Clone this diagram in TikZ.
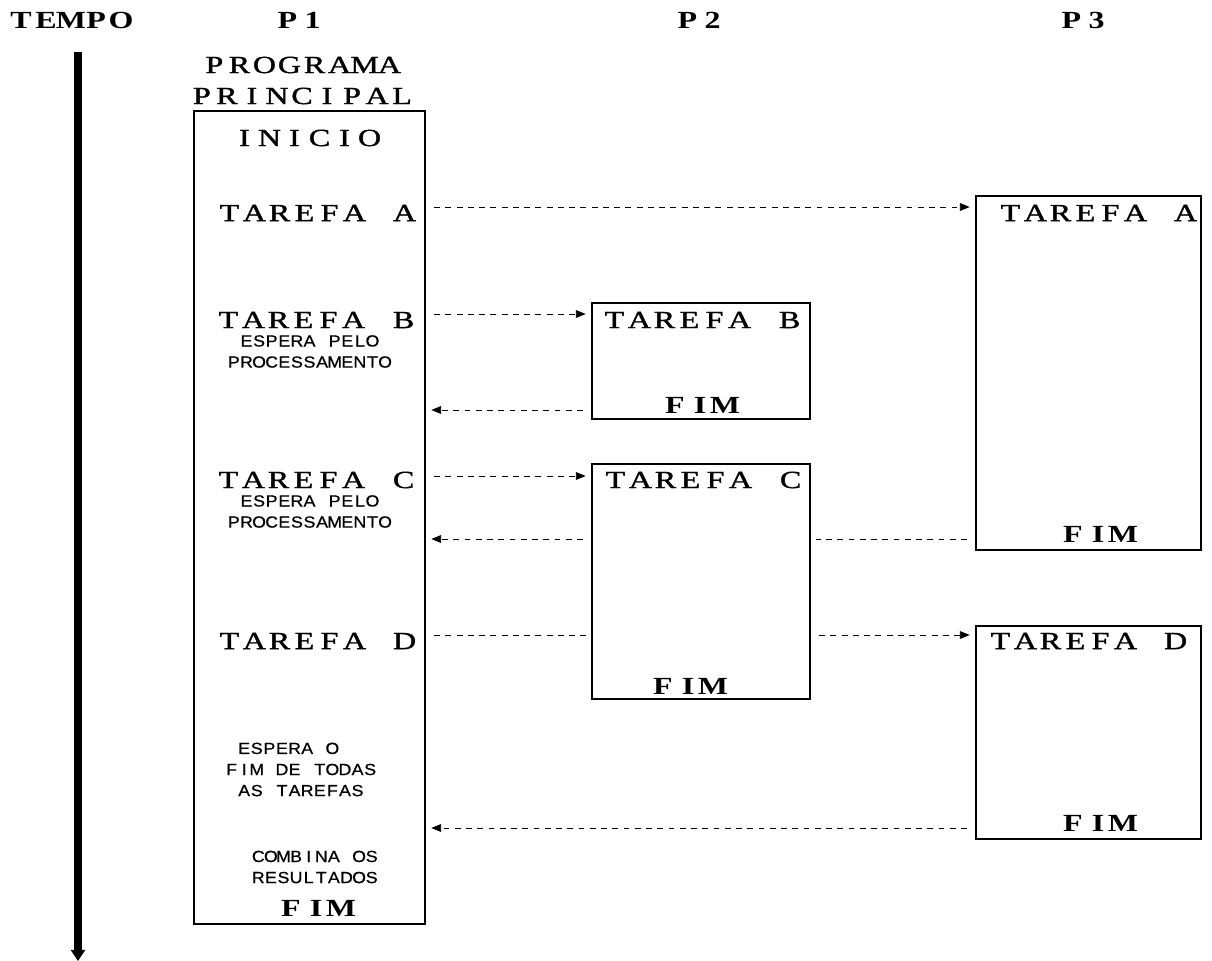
\documentclass[tikz,border=0pt]{standalone}
\usepackage{fontspec}
\usepackage{graphicx}
\setmainfont{Liberation Serif}
\newfontfamily\bigf[FakeBold=1.2]{Liberation Serif}
\newfontfamily\bigbff{Liberation Serif Bold}
\newfontfamily\smallf[FakeBold=0.6]{Liberation Sans}
\usetikzlibrary{arrows.meta}

\def\cellx{1.3}
\newcommand\cel[2][17.8pt]{\def\cellpitch{#1}\celloop#2\relax}
\def\celloop#1{\ifx#1\relax\else\makebox[\cellpitch]{\scalebox{\cellx}[1]{#1}}\expandafter\celloop\fi}

\begin{document}
\begin{tikzpicture}[
  x=0.025cm, y=-0.025cm,
  box/.style={draw, line width=0.9pt, inner sep=0pt},
  big/.style={inner sep=0pt, font=\bigf\fontsize{17.5}{20}\selectfont},
  bigbf/.style={inner sep=0pt, font=\bigbff\fontsize{17.5}{20}\selectfont},
  note/.style={inner sep=0pt, align=center, font={\smallf\fontsize{11.5}{15}\selectfont\def\cellx{1.1}}},
  flow/.style={dash pattern=on 4.2pt off 3.8pt, line width=0.6pt, shorten <=6pt, shorten >=4pt},
  arr/.style={-{Triangle[length=7pt,width=5.5pt]}}
]
\useasboundingbox (0,0) rectangle (1212,961);

\node[bigbf] (tempo) at (71,20) {\cel{TEMPO}};
\node[bigbf] (hp1) at (300,20) {\cel{P1}};
\node[bigbf] (hp2) at (700,20) {\cel{P2}};
\node[bigbf] (hp3) at (1084,20) {\cel{P3}};

\coordinate (t0) at (78,52);
\coordinate (t1) at (78,961);
\draw[line width=5.5pt, -{Triangle[length=8pt,width=10pt]}] (t0) -- (t1);

\node[big] (prog) at (302,65) {\cel{PROGRAMA}};
\node[big] (princ) at (302,96) {\cel{PRINCIPAL}};

\node[box, minimum width=5.775cm, minimum height=20.325cm] (p1) at (309.5,517.5) {};
\node[box, minimum width=5.45cm, minimum height=2.9cm] (p2b) at (701,361) {};
\node[box, minimum width=5.45cm, minimum height=5.875cm] (p2c) at (701,581.5) {};
\node[box, minimum width=5.625cm, minimum height=8.85cm] (p3a) at (1088.5,373) {};
\node[box, minimum width=5.625cm, minimum height=5.325cm] (p3d) at (1088.5,732.5) {};

\node[big] (inicio) at (307,138) {\cel{INICIO}};
\node[big] (ta1) at (317,213) {\cel{TAREFA~A}};
\node[big] (tb1) at (316,320) {\cel{TAREFA~B}};
\node[note] (wb) at (309.5,351.5) {\cel[8.96pt]{ESPERA~PELO}\\\cel[8.96pt]{PROCESSAMENTO}};
\node[big] (tc1) at (316,480) {\cel{TAREFA~C}};
\node[note] (wc) at (309.5,511.5) {\cel[8.96pt]{ESPERA~PELO}\\\cel[8.96pt]{PROCESSAMENTO}};
\node[big] (td1) at (317,641) {\cel{TAREFA~D}};
\node[note, align=left, anchor=west] (wall) at (225,769.5)
  {\cel[8.96pt]{~ESPERA~O}\\\cel[8.96pt]{FIM~DE~TODAS}\\\cel[8.96pt]{~AS~TAREFAS}};
\node[note] (comb) at (315,867) {\cel[8.96pt]{COMBINA~OS}\\\cel[8.96pt]{RESULTADOS}};
\node[bigbf] (fim1) at (316,908) {\cel{FIM}};

\node[big] (tb2) at (702,320) {\cel{TAREFA~B}};
\node[bigbf] (fimb) at (700,405) {\cel{FIM}};
\node[big] (tc2) at (703,480) {\cel{TAREFA~C}};
\node[bigbf] (fimc) at (688,686) {\cel{FIM}};
\node[big] (ta3) at (1098,213) {\cel{TAREFA~A}};
\node[bigbf] (fima) at (1098,534) {\cel{FIM}};
\node[big] (td3) at (1088,641) {\cel{TAREFA~D}};
\node[bigbf] (fimd) at (1098,823) {\cel{FIM}};

\coordinate (ya) at (0,207);
\coordinate (yb) at (0,314);
\coordinate (ybf) at (0,410);
\coordinate (yc) at (0,476);
\coordinate (ycf) at (0,539);
\coordinate (yd) at (0,635);
\coordinate (ydf) at (0,828);

\draw[flow, arr] (p1.east |- ya) -- (p3a.west |- ya);
\draw[flow, arr] (p1.east |- yb) -- (p2b.west |- yb);
\draw[flow, arr] (p2b.west |- ybf) -- (p1.east |- ybf);
\draw[flow, arr] (p1.east |- yc) -- (p2c.west |- yc);
\draw[flow, arr] (p2c.west |- ycf) -- (p1.east |- ycf);
\draw[flow] (p3a.west |- ycf) -- (p2c.east |- ycf);
\draw[flow] (p1.east |- yd) -- (p2c.west |- yd);
\draw[flow, arr] (p2c.east |- yd) -- (p3d.west |- yd);
\draw[flow, arr] (p3d.west |- ydf) -- (p1.east |- ydf);
\end{tikzpicture}
\end{document}
